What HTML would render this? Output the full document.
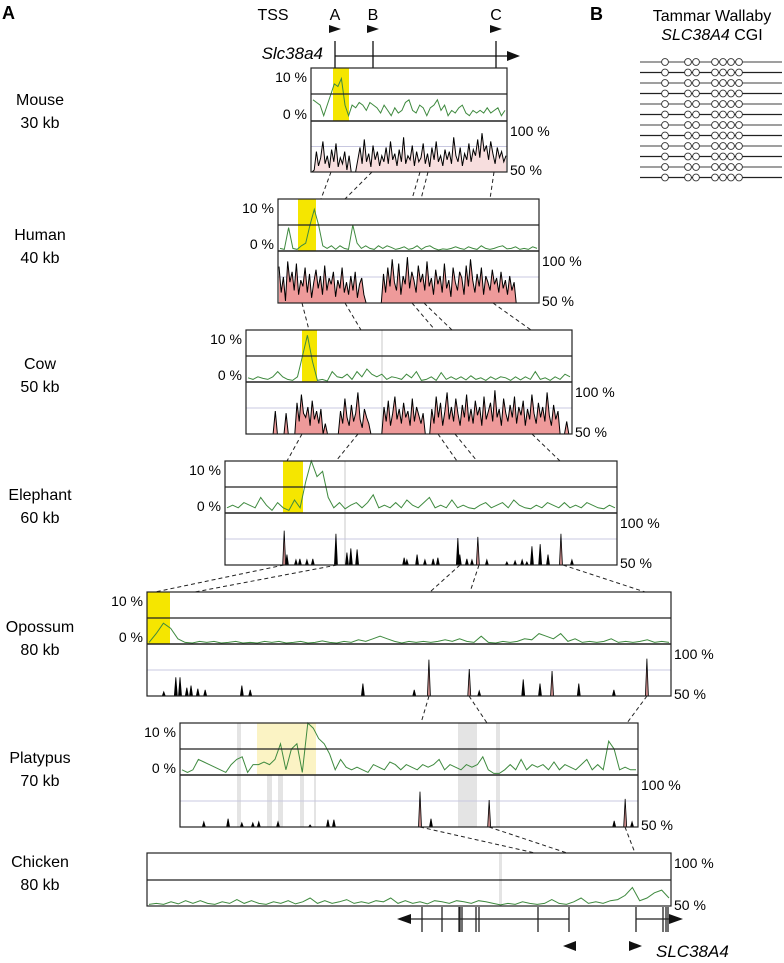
<!DOCTYPE html>
<html><head><meta charset="utf-8"><style>
body{margin:0;background:#fff;}
svg{display:block;font-family:"Liberation Sans",Arial,sans-serif;}
</style></head><body>
<svg id="fig" width="784" height="963" viewBox="0 0 784 963" xmlns="http://www.w3.org/2000/svg">
<g id="static">
<text x="2" y="19" font-size="18" font-weight="bold">A</text>
<text x="590" y="20" font-size="18" font-weight="bold">B</text>
<text x="712" y="21" font-size="16" text-anchor="middle">Tammar Wallaby</text>
<text x="712" y="40" font-size="16" text-anchor="middle"><tspan font-style="italic">SLC38A4</tspan> CGI</text>
<text x="273" y="20" font-size="16" text-anchor="middle">TSS</text>
<text x="335" y="20" font-size="16" text-anchor="middle">A</text>
<text x="373" y="20" font-size="16" text-anchor="middle">B</text>
<text x="496" y="20" font-size="16" text-anchor="middle">C</text>
<polygon points="329,25 341,29 329,33" fill="#111"/>
<polygon points="367,25 379,29 367,33" fill="#111"/>
<polygon points="490,25 502,29 490,33" fill="#111"/>
<text x="323" y="59" font-size="17" font-style="italic" text-anchor="end">Slc38a4</text>
<g stroke="#111" stroke-width="1.3">
<line x1="335" y1="56" x2="510" y2="56"/>
<line x1="335" y1="41" x2="335" y2="68"/>
<line x1="373" y1="41" x2="373" y2="68"/>
<line x1="496" y1="41" x2="496" y2="68"/>
</g>
<polygon points="507,51 520,56 507,61" fill="#111"/>
</g>
<g id="panels"></g>
<g id="wallaby"></g>
<g id="bottomgene"></g>
</svg>
<script>
// ---- green (CpG/feature) track values, % ----
const mouseGreen=[4,3.5,3,1,3,5,7,6.5,8,3,1,3,2.5,3.5,3,2,3.5,3,2.5,1.5,3,2,1,2.5,1.5,2,3.5,4,2,1.5,3,2.5,1,2.5,3,4,2,3,1,2,1.5,2.5,3,1.5,1,2,1.5,2,1.5,2.5,1.5,2,2.5,1,2];
const humanGreen=[0.5,0.3,4.5,0.5,0.3,1,1.5,5,8,5,1,0.5,1,0.3,1,0.5,0.3,5,1.5,0.5,1,0.5,0.3,1,0.5,1,0.7,0.3,0.5,0.8,0.3,0.5,1,0.3,0.8,1,0.5,0.2,0.4,0.3,0.5,0.8,0.5,0.3,0.8,0.5,0.3,1,0.5,0.3,0.5,0.8,1,0.4,0.5,0.8,0.3,0.5,0.3,0.8,0.5];
const cowGreen=[0.8,0.5,1,0.7,0.5,1,2,1,0.5,0.3,1,5,9,4,0.3,0.5,0.2,2,1,0.8,1.5,0.5,2,1,2.5,1.5,1,1.5,0.5,1,0.8,0.5,1.5,0.8,2,0.3,0.5,1,0.3,1.8,0.5,1,0.5,1,0.4,1.2,0.5,0.8,0.3,1,0.5,1,0.8,0.3,1,0.4,1,0.5,2,0.5,0.8,0.3,1,0.5,1.5,1];
const elephantGreen=[1,1.5,1,2,1.5,1,3,1.5,0.5,2,1,0.5,2.5,1,6,10,7,8,3,1,2,0.8,1.5,2,1,2,3.5,1,1.5,1,2,1,2.5,1.5,1,2,3,1,1.5,1,2.5,1,1.5,1,0.8,1.5,2,1,1.5,2,1,2.5,1.5,1,0.8,1.5,1,2,1.5,1,2,1,1.5,1,2,1.5,1,0.8,1.5,1];
const opossumGreen=[0.3,2,4,3,1,0.3,0.2,0.5,0.3,0.5,0.2,0.3,0.5,0.2,0.3,0.2,0.5,0.3,0.5,0.2,0.3,0.5,0.2,0.3,0.6,0.3,0.2,0.5,0.3,0.8,0.5,1,1.5,1,0.5,0.2,0.5,0.3,0.5,0.3,0.5,0.8,0.5,1,0.5,0.3,1.5,0.3,0.2,0.5,0.3,0.5,1,0.8,2,1.5,1,2,0.5,1,0.3,0.5,0.3,0.5,1,0.3,0.5,0.3,0.5,0.8,0.3,0.5,0.3];
const platypusGreen=[1,0.5,1,3,2.5,2,1.5,1,0.5,2,3,3.5,0.5,2,2,2.5,2,3,6,1,5,6,0.5,10,9,7,6,4,1,3,1.5,1,1.5,1,0.5,2,1.5,1,2.5,2,1,2,1.5,1,2,1.5,2,3,1,2,1.5,1,2,1.5,2,3.5,1,0.3,0.3,1,2,1,3,1,2,1.5,2,1,2.5,1,2,1.5,1,2,3,1,2,1,6.5,5,1,1.5,1,1];
const chickenGreen=[0.3,0.5,0.3,0.8,0.4,1,0.5,1,0.5,0.3,0.8,0.5,1.2,0.5,1,0.5,0.3,0.8,0.5,1,0.4,0.8,1.5,0.5,1,0.5,0.8,1.2,0.5,0.8,0.5,1,0.8,1.5,0.5,1,0.5,0.8,0.4,1,0.8,0.5,1,0.8,0.5,1,0.8,0.5,0.2,0.5,0.3,0.8,0.5,0.3,0.5,1.2,0.5,0.3,0.8,1.5,0.5,0.8,0.5,1,1.2,2,3.5,1,1.5,2.5,3,1.5];
// ---- dense conservation (% identity, 50 = none) ----
const mouseCons=[50,52,70,56,64,80,58,66,54,72,60,78,55,64,58,70,52,66,50,50,50,62,74,58,82,60,68,55,76,62,70,56,66,60,74,58,80,62,68,56,72,60,84,58,66,62,76,56,70,60,64,78,58,68,55,74,62,80,60,66,56,72,62,70,58,84,66,60,74,56,68,62,78,60,72,66,82,64,88,70,76,62,80,68,58,74,64,70,60,66];
const humanCons=[85,60,75,52,90,70,80,62,88,58,72,66,84,60,78,55,70,82,64,76,58,86,62,74,68,80,56,72,64,84,60,70,58,76,62,80,55,68,74,58,50,50,50,50,50,50,50,50,78,60,84,66,92,70,62,88,58,76,68,94,64,80,72,60,86,70,78,62,90,66,74,58,82,68,76,60,88,64,72,56,84,70,62,80,74,58,86,66,92,72,60,78,66,84,58,76,70,62,82,68,74,60,80,64,72,58,76,62,70,50,50,50,50,50,50,50,50,50,50,50];
const cowCons=[50,50,50,50,50,50,50,50,50,50,50,50,50,72,50,50,50,50,70,50,50,50,50,80,62,88,70,66,76,58,82,64,72,60,74,50,60,50,50,50,50,50,50,72,60,84,66,58,78,62,70,90,64,56,74,66,60,50,50,50,50,50,50,76,62,82,58,70,86,64,74,60,80,66,72,58,84,62,76,68,60,70,50,50,50,74,60,86,66,80,58,72,90,64,76,62,84,70,58,78,66,88,62,74,60,82,68,76,58,86,64,72,80,62,92,66,74,58,84,70,62,78,66,86,60,76,68,82,58,74,64,88,70,60,80,66,76,62,90,68,58,78,64,72,50,50,50,62,50,50];
// ---- sparse conservation peaks: position (% of region), identity %, red flag ----
const elephantPos=[15.1,15.8,18.1,19.1,20.9,22.4,28.3,31.1,32.1,33.7,45.7,46.4,49.0,51.0,53.1,54.3,59.4,59.9,61.7,63.0,64.5,66.8,71.9,74.0,75.8,77.0,78.3,80.4,82.4,85.7,88.5];
const elephantVal=[83,60,55,56,55,56,80,62,66,65,57,55,60,55,56,57,76,60,56,55,77,55,53,54,55,53,68,70,60,80,55];
const elephantRed=[0,20,29];
const opossumPos=[3.2,5.5,6.3,7.6,8.4,9.7,11.1,18.1,19.7,41.2,51.0,53.8,61.5,63.4,71.8,75.0,77.3,82.4,89.1,95.4];
const opossumVal=[54,68,68,58,60,57,56,60,56,62,56,85,76,55,66,62,74,62,56,86];
const opossumRed=[11,12,16,19];
const platypusPos=[5.2,10.5,13.5,15.9,17.2,21.4,28.4,32.3,33.6,52.4,54.8,67.5,94.8,97.2,98.7];
const platypusVal=[55,58,54,54,55,55,52,57,57,84,58,76,56,77,55];
const platypusRed=[9,11,13];

const NS='http://www.w3.org/2000/svg';
function mk(tag,attrs,parent){const e=document.createElementNS(NS,tag);for(const k in attrs)e.setAttribute(k,attrs[k]);parent.appendChild(e);return e;}
const panelsG=document.getElementById('panels');

const panels=[
 {id:'mouse',name:'Mouse',kb:'30 kb',ly:105,l:311,r:507,t:68,m:94,z:121,b:172,green:mouseGreen,cons:mouseCons,fill:'#f7dede',hl:[[333,349,'#f5e600']],grey:[]},
 {id:'human',name:'Human',kb:'40 kb',ly:240,l:278,r:539,t:199,m:225,z:251,b:303,green:humanGreen,cons:humanCons,fill:'#ee9a9a',hl:[[298,316,'#f5e600']],grey:[]},
 {id:'cow',name:'Cow',kb:'50 kb',ly:369,l:246,r:572,t:330,m:356,z:382,b:434,green:cowGreen,cons:cowCons,fill:'#ee9a9a',hl:[[302,317,'#f5e600']],grey:[[381,383]]},
 {id:'elephant',name:'Elephant',kb:'60 kb',ly:500,l:225,r:617,t:461,m:487,z:513,b:565,green:elephantGreen,pos:elephantPos,val:elephantVal,red:elephantRed,hl:[[283,303,'#f5e600']],grey:[[344,346]]},
 {id:'opossum',name:'Opossum',kb:'80 kb',ly:632,l:147,r:671,t:592,m:618,z:644,b:696,green:opossumGreen,pos:opossumPos,val:opossumVal,red:opossumRed,hl:[[147,170,'#f5e600']],grey:[]},
 {id:'platypus',name:'Platypus',kb:'70 kb',ly:763,l:180,r:638,t:723,m:749,z:775,b:827,green:platypusGreen,pos:platypusPos,val:platypusVal,red:platypusRed,hl:[[257,316,'#fbf3c4']],grey:[[237,241],[267,272],[278,283],[300,304],[314,316],[458,477],[496,500]]}
];

function greenLine(p,arr,g,zeroY,topY){
  const xs=i=>p.l+2+i*(p.r-p.l-4)/(arr.length-1);
  const ys=v=>zeroY-v/10*(zeroY-topY);
  const pts=arr.map((v,i)=>xs(i).toFixed(1)+','+ys(v).toFixed(1)).join(' ');
  const e=mk('polyline',{points:pts,fill:'none',stroke:'#3f8a3f','stroke-width':'1'},g);
  
  
}

panels.forEach(p=>{
  const g=mk('g',{},panelsG);
  
  
  const lbl=mk('text',{x:40,y:p.ly,'font-size':16,'text-anchor':'middle'},g);lbl.textContent=p.name;
  
  
  const kb=mk('text',{x:40,y:p.ly+23,'font-size':16,'text-anchor':'middle'},g);kb.textContent=p.kb;
  
  
  p.grey.forEach(gr=>{const e=mk('rect',{x:gr[0],y:p.t,width:gr[1]-gr[0],height:p.b-p.t,fill:'#e4e4e4'},g);
    
    });
  p.hl.forEach(h=>{const e=mk('rect',{x:h[0],y:p.t,width:h[1]-h[0],height:p.z-p.t,fill:h[2]},g);
    
    });
  const gy=(p.z+p.b)/2;
  mk('line',{x1:p.l,y1:gy,x2:p.r,y2:gy,stroke:'#c8c8e0','stroke-width':1},g);
  const consY=v=>p.b-(v-50)/50*(p.b-p.z);
  if(p.cons){
    const n=p.cons.length, xs=i=>p.l+1+i*(p.r-p.l-2)/(n-1);
    let d='M'+xs(0)+','+p.b;
    p.cons.forEach((v,i)=>{d+=' L'+xs(i).toFixed(1)+','+consY(v).toFixed(1);});
    d+=' L'+xs(n-1)+','+p.b+' Z';
    const f=mk('path',{d:d,fill:p.fill,stroke:'none'},g);
    
    
    const ln=mk('polyline',{points:p.cons.map((v,i)=>xs(i).toFixed(1)+','+consY(v).toFixed(1)).join(' '),fill:'none',stroke:'#000','stroke-width':1},g);
    
    
  } else {
    p.pos.forEach((ps,i)=>{
      const x=p.l+ps/100*(p.r-p.l), y=consY(p.val[i]);
      const red=p.red.indexOf(i)>=0;
      const e=mk('polygon',{points:(x-1.5)+','+p.b+' '+x+','+y.toFixed(1)+' '+(x+1.5)+','+p.b,fill:red?'#c98a8a':'#000',stroke:'#000','stroke-width':0.8},g);
      
      
    });
  }
  greenLine(p,p.green,g,p.z,p.t);
  mk('rect',{x:p.l,y:p.t,width:p.r-p.l,height:p.b-p.t,fill:'none',stroke:'#222','stroke-width':1.2},g);
  mk('line',{x1:p.l,y1:p.m,x2:p.r,y2:p.m,stroke:'#222','stroke-width':1.2},g);
  mk('line',{x1:p.l,y1:p.z,x2:p.r,y2:p.z,stroke:'#222','stroke-width':1.4},g);
  [['10 %',p.l-4,p.t+14,'end','y10'],['0 %',p.l-4,p.z-2,'end','y0'],['100 %',p.r+3,p.z+15,'start','y100'],['50 %',p.r+3,p.b+3,'start','y50']].forEach(a=>{
    const t=mk('text',{x:a[1],y:a[2],'font-size':14,'text-anchor':a[3]},g);t.textContent=a[0];
    
    
  });
});

// chicken panel
(function(){
  const p={id:'chicken',l:147,r:671,t:853,m:880,z:906};
  const g=mk('g',{},panelsG);
  
  
  [['Chicken',867,'species'],['80 kb',890,'length']].forEach(a=>{const t=mk('text',{x:40,y:a[1],'font-size':16,'text-anchor':'middle'},g);t.textContent=a[0];
    
    });
  mk('rect',{x:499,y:p.t,width:3,height:p.z-p.t,fill:'#e4e4e4'},g);
  greenLine(p,chickenGreen,g,p.z,p.t);
  mk('rect',{x:p.l,y:p.t,width:p.r-p.l,height:p.z-p.t,fill:'none',stroke:'#222','stroke-width':1.2},g);
  mk('line',{x1:p.l,y1:p.m,x2:p.r,y2:p.m,stroke:'#222','stroke-width':1.2},g);
  [['100 %',868,'y100'],['50 %',910,'y50']].forEach(a=>{const t=mk('text',{x:p.r+3,y:a[1],'font-size':14},g);t.textContent=a[0];
    
    });
})();

// dashed connectors
const connectors=[
 [331,172,321,199],[372,172,345,199],[420,172,412,199],[428,172,421,199],[494,172,490,199],
 [302,303,309,330],[345,303,361,330],[412,303,435,330],[424,303,452,330],[493,303,531,330],
 [302,434,287,461],[358,434,336,461],[438,434,457,461],[455,434,477,461],[532,434,560,461],
 [284,565,155,592],[337,565,195,592],[460,565,430,592],[479,565,470,592],[563,565,645,592],
 [429,696,421,723],[469,696,487,723],[647,696,627,723],
 [420,827,535,853],[489,827,567,853],[625,827,635,853]];
connectors.forEach(c=>{const e=mk('line',{x1:c[0],y1:c[1],x2:c[2],y2:c[3],stroke:'#222','stroke-width':1,'stroke-dasharray':'4,3'},panelsG);
  
  });

// wallaby methylation
const wg=document.getElementById('wallaby');
const cpgX=[665,688,696,715,723,731,739];
for(let r=0;r<12;r++){
  const y=62+r*10.5;
  mk('line',{x1:640,y1:y,x2:782,y2:y,stroke:r%2?'#222':'#666','stroke-width':1.3},wg);
  cpgX.forEach(x=>{const c=mk('circle',{cx:x,cy:y,r:3.4,fill:'#fff',stroke:'#333','stroke-width':0.9},wg);
    
    });
}

// bottom human gene
const bg=document.getElementById('bottomgene');
mk('line',{x1:405,y1:919,x2:569,y2:919,stroke:'#222','stroke-width':1.2},bg);
mk('line',{x1:636,y1:919,x2:675,y2:919,stroke:'#222','stroke-width':1.2},bg);
mk('polygon',{points:'397,919 411,914 411,924',fill:'#111'},bg);
mk('polygon',{points:'683,919 669,914 669,924',fill:'#111'},bg);
[422,442,459,460,462,476,479,538,569,636,663,666,668].forEach(x=>mk('line',{x1:x,y1:907,x2:x,y2:932,stroke:'#222','stroke-width':1.3},bg));
mk('polygon',{points:'563,946 576,941 576,951',fill:'#111'},bg);
mk('polygon',{points:'642,946 629,941 629,951',fill:'#111'},bg);
const gl=mk('text',{x:656,y:957,'font-size':17,'font-style':'italic'},bg);gl.textContent='SLC38A4';


</script>
</body></html>
